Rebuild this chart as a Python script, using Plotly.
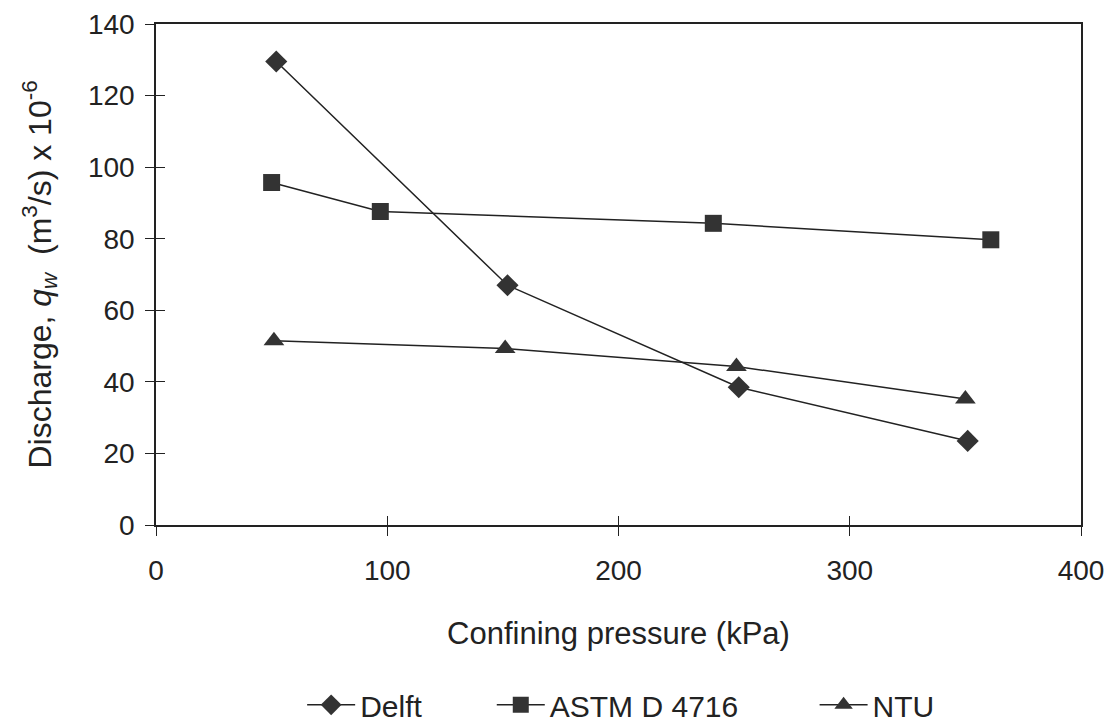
import plotly.graph_objects as go

delft_x = [52, 152, 252, 351]
delft_y = [129.5, 67, 38.5, 23.5]
astm_x = [50, 97, 241, 361]
astm_y = [95.7, 87.6, 84.3, 79.7]
ntu_x = [51, 151, 251, 350]
ntu_y = [51.5, 49.3, 44.3, 35.2]

x_ticks = [0, 100, 200, 300, 400]
y_ticks = [0, 20, 40, 60, 80, 100, 120, 140]

font = "Liberation Sans, Arial, sans-serif"
mc = "#333333"
lc = "#222222"

fig = go.Figure()
fig.add_trace(go.Scatter(x=delft_x, y=delft_y, name="Delft", mode="lines+markers",
                         line=dict(color=lc, width=1.5), legend="legend",
                         marker=dict(symbol="diamond", size=17, color=mc)))
fig.add_trace(go.Scatter(x=astm_x, y=astm_y, name="ASTM D 4716", mode="lines+markers",
                         line=dict(color=lc, width=1.5), legend="legend2",
                         marker=dict(symbol="square", size=17, color=mc)))
fig.add_trace(go.Scatter(x=ntu_x, y=ntu_y, name="NTU", mode="lines+markers",
                         line=dict(color=lc, width=1.5), legend="legend3",
                         marker=dict(symbol="triangle-up", size=18, color=mc)))

axis_common = dict(ticks="outside", ticklen=9, tickwidth=1.3, tickcolor=lc,
                   showline=True, linecolor=lc, linewidth=1.6, mirror=True,
                   showgrid=False, zeroline=False, automargin=False,
                   tickfont=dict(size=28))
overlay_common = dict(ticks="inside", ticklen=9, tickwidth=1.3, tickcolor=lc,
                      showticklabels=False, showgrid=False, zeroline=False,
                      automargin=False)

leg_common = dict(orientation="h", yanchor="middle", y=-0.359, xanchor="left",
                  font=dict(size=30), bgcolor="rgba(0,0,0,0)", itemwidth=48)

fig.update_layout(
    width=1106, height=714,
    paper_bgcolor="white", plot_bgcolor="white",
    margin=dict(l=148, r=33, t=16, b=197, autoexpand=False),
    font=dict(family=font, size=28, color="#222"),
    xaxis=dict(range=[0, 400], tickvals=x_ticks, ticklabelstandoff=11,
               title=dict(text="Confining pressure (kPa)", font=dict(size=31), standoff=37),
               **axis_common),
    yaxis=dict(range=[0, 140], tickvals=y_ticks, ticklabelstandoff=5,
               title=dict(text="Discharge, <i>q</i><sub><i>w</i></sub>  (m<sup>3</sup>/s) x 10<sup>-6</sup>",
                          font=dict(size=32), standoff=27),
               **axis_common),
    xaxis2=dict(range=[0, 400], tickvals=x_ticks, overlaying="x", side="bottom", **overlay_common),
    yaxis2=dict(range=[0, 140], tickvals=y_ticks, overlaying="y", side="left", **overlay_common),
    legend=dict(x=0.158, **leg_common),
    legend2=dict(x=0.363, **leg_common),
    legend3=dict(x=0.712, **leg_common),
    showlegend=True,
)
# invisible trace to activate the overlay axes
fig.add_trace(go.Scatter(x=[0], y=[0], xaxis="x2", yaxis="y2", mode="markers",
                         marker=dict(opacity=0), showlegend=False, hoverinfo="skip"))

fig.write_html("out.html")
